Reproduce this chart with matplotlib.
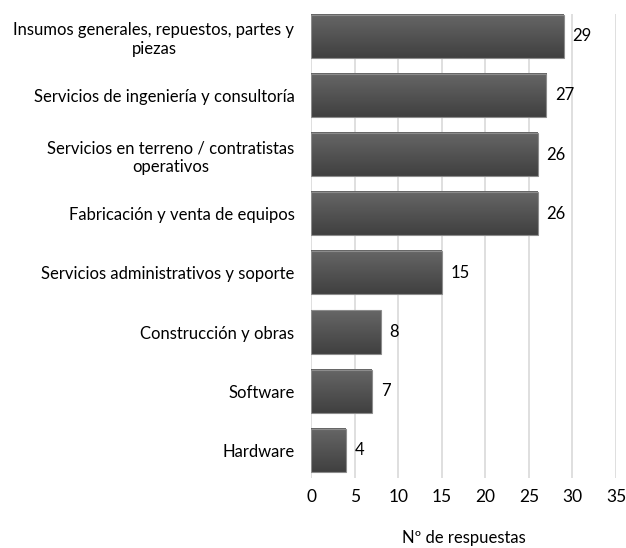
import numpy as np
import matplotlib
matplotlib.use("Agg")
import matplotlib.pyplot as plt

categories = [
    "Insumos generales, repuestos, partes y\npiezas",
    "Servicios de ingeniería y consultoría",
    "Servicios en terreno / contratistas\noperativos",
    "Fabricación y venta de equipos",
    "Servicios administrativos y soporte",
    "Construcción y obras",
    "Software",
    "Hardware",
]
responses = [29, 27, 26, 26, 15, 8, 7, 4]
x_ticks = [0, 5, 10, 15, 20, 25, 30, 35]

plt.rcParams["font.family"] = ["Lato", "DejaVu Sans"]

fig = plt.figure(figsize=(6.26, 5.48), dpi=100)
ax = fig.add_axes([0.497, 0.128, 0.487, 0.847])

ypos = np.arange(len(categories))
bar_h = 0.73

# vertical gradient, lighter on top
grad = np.linspace(0, 1, 64).reshape(-1, 1)
cmap = matplotlib.colors.LinearSegmentedColormap.from_list("g", ["#666666", "#404040"])

bars = ax.barh(ypos, responses, height=bar_h, color="none", edgecolor="#8c8c8c",
               linewidth=0.8, zorder=3)
for b, val in zip(bars, responses):
    x0, y0 = b.get_x(), b.get_y()
    w, h = b.get_width(), b.get_height()
    ax.imshow(grad, cmap=cmap, aspect="auto", extent=[x0, x0 + w, y0 + h, y0],
              zorder=2, interpolation="bicubic")
    ax.text(w + 1.0, y0 + h / 2, str(val), va="center", ha="left",
            fontsize=12, color="black")

ax.set_xlim(0, 35)
ax.set_ylim(len(categories) - 1 + 0.465, -0.38)
ax.set_yticks(ypos)
ax.set_yticklabels(categories, fontsize=12, ha="right", multialignment="center",
                   linespacing=1.25)
ax.tick_params(axis="y", length=0, pad=12)

ax.set_xticks(x_ticks)
ax.tick_params(axis="x", length=0, labelsize=12.5, pad=8)
ax.grid(axis="x", color="#d9d9d9", linewidth=1.2, zorder=0)
ax.set_axisbelow(True)
for s in ax.spines.values():
    s.set_visible(False)

ax.set_xlabel("Nº de respuestas", fontsize=12, labelpad=18)

fig.savefig("out.png", dpi=100, facecolor="white")
